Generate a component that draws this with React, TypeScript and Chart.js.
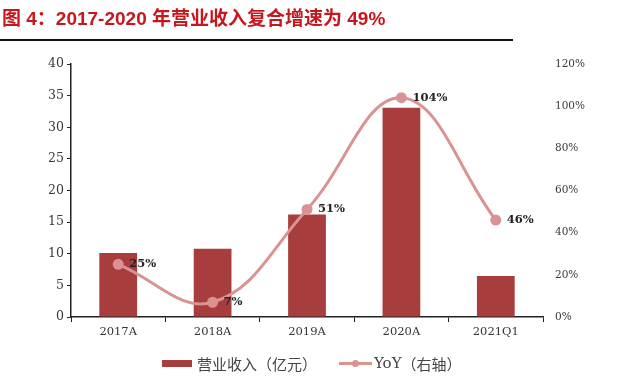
import React, { useEffect, useRef } from "react";
import { Chart, registerables } from "chart.js";

Chart.register(...registerables);

const categories = ["2017A", "2018A", "2019A", "2020A", "2021Q1"];
const revenue = [10.1, 10.8, 16.2, 33.1, 6.5];
const yoy = [25, 7, 51, 104, 46];
const leftTicks = [0, 5, 10, 15, 20, 25, 30, 35, 40];
const rightTicks = [0, 20, 40, 60, 80, 100, 120];

const TITLE = "图 4：2017-2020 年营业收入复合增速为 49%";
const BAR_LABEL = "营业收入（亿元）";
const LINE_LABEL = "YoY（右轴）";

const BAR_COLOR = "#a83d3d";
const LINE_COLOR = "#da9292";
const TICK_FONT = "'DejaVu Serif', serif";

const labelPlugin = {
  id: "yoyLabels",
  afterDatasetsDraw(chart: any) {
    const meta = chart.getDatasetMeta(1);
    const ctx = chart.ctx;
    ctx.save();
    ctx.font = `bold 11.5px ${TICK_FONT}`;
    ctx.fillStyle = "#222";
    ctx.textAlign = "left";
    ctx.textBaseline = "middle";
    meta.data.forEach((pt: any, i: number) => {
      ctx.fillText(`${yoy[i]}%`, pt.x + 11, pt.y);
    });
    ctx.restore();
  },
};

export default function App() {
  const ref = useRef<HTMLCanvasElement | null>(null);
  useEffect(() => {
    if (!ref.current) return;
    const chart = new Chart(ref.current, {
      type: "bar",
      data: {
        labels: categories,
        datasets: [
          {
            type: "bar",
            label: BAR_LABEL,
            data: revenue,
            backgroundColor: BAR_COLOR,
            yAxisID: "y",
            barPercentage: 0.8,
            categoryPercentage: 0.5,
            order: 2,
          },
          {
            type: "line",
            label: LINE_LABEL,
            data: yoy,
            borderColor: LINE_COLOR,
            backgroundColor: LINE_COLOR,
            borderWidth: 3,
            pointRadius: 4,
            pointBackgroundColor: LINE_COLOR,
            pointBorderColor: LINE_COLOR,
            tension: 0.4,
            yAxisID: "y1",
            order: 1,
          },
        ],
      },
      options: {
        animation: false,
        responsive: false,
        maintainAspectRatio: false,
        layout: { padding: { top: 64, right: 0, left: 0, bottom: 0 } },
        plugins: {
          legend: { display: false },
          tooltip: { enabled: false },
        },
        scales: {
          x: {
            offset: true,
            grid: {
              offset: true,
              drawOnChartArea: false,
              drawTicks: true,
              tickLength: 5,
              color: "#222",
            },
            border: { display: true, color: "#222", width: 1.5 },
            ticks: {
              font: { family: TICK_FONT, size: 11.5 },
              color: "#333",
              padding: 3,
            },
            afterFit(scale: any) {
              scale.height = 72;
            },
          },
          y: {
            position: "left",
            min: 0,
            max: 40,
            afterBuildTicks(scale: any) {
              scale.ticks = leftTicks.map((v) => ({ value: v }));
            },
            grid: {
              drawOnChartArea: false,
              drawTicks: true,
              tickLength: 4,
              color: "#222",
            },
            border: { display: true, color: "#222", width: 1.5 },
            ticks: {
              font: { family: TICK_FONT, size: 12.5 },
              color: "#3a3a3a",
              padding: 3,
            },
            afterFit(scale: any) {
              scale.width = 71;
            },
          },
          y1: {
            position: "right",
            min: 0,
            max: 120,
            afterBuildTicks(scale: any) {
              scale.ticks = rightTicks.map((v) => ({ value: v }));
            },
            grid: { display: false, drawOnChartArea: false, drawTicks: false },
            border: { display: false },
            ticks: {
              font: { family: TICK_FONT, size: 10.5 },
              color: "#3a3a3a",
              padding: 12,
              callback: (v: any) => `${v}%`,
            },
            afterFit(scale: any) {
              scale.width = 90;
            },
          },
        },
      },
      plugins: [labelPlugin],
    });
    return () => chart.destroy();
  }, []);

  return (
    <div
      style={{
        position: "absolute",
        left: 0,
        top: 0,
        width: 633,
        height: 389,
        background: "#fff",
        overflow: "hidden",
      }}
    >
      <canvas ref={ref} width={633} height={389} style={{ position: "absolute", left: 0, top: 0 }} />
      <div
        style={{
          position: "absolute",
          left: 2,
          top: 5,
          fontFamily: "'Liberation Sans', 'Noto Sans CJK SC', sans-serif",
          fontWeight: 700,
          fontSize: 19,
          color: "#c8161d",
          whiteSpace: "nowrap",
          lineHeight: "28px",
        }}
      >
        {TITLE}
      </div>
      <div
        style={{
          position: "absolute",
          left: 0,
          top: 39,
          width: 513,
          height: 2,
          background: "#111",
        }}
      />
      <div
        style={{
          position: "absolute",
          left: 162,
          top: 352,
          height: 22,
          display: "flex",
          alignItems: "center",
          fontFamily: "'Noto Sans CJK SC', sans-serif",
          fontSize: 15,
          color: "#444",
          whiteSpace: "nowrap",
        }}
      >
        <span style={{ display: "inline-block", width: 30, height: 7, background: BAR_COLOR, marginRight: 5 }} />
        <span>{BAR_LABEL}</span>
        <span style={{ position: "relative", display: "inline-block", width: 33, height: 10, marginLeft: 22, marginRight: 2 }}>
          <span style={{ position: "absolute", left: 0, top: 4, width: 33, height: 2.5, background: LINE_COLOR }} />
          <span style={{ position: "absolute", left: 13, top: 2, width: 7, height: 7, borderRadius: 4, background: LINE_COLOR }} />
        </span>
        <span style={{ fontFamily: "'DejaVu Serif', 'Noto Sans CJK SC', serif" }}>YoY</span>
        <span>（右轴）</span>
      </div>
    </div>
  );
}
